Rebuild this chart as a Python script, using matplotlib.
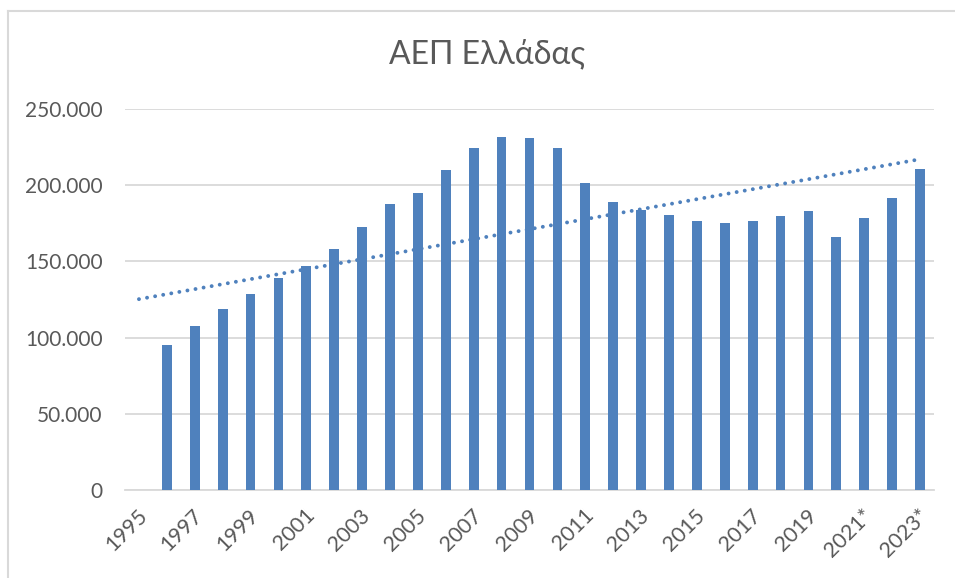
import matplotlib
matplotlib.use("Agg")
import matplotlib.pyplot as plt
import matplotlib.transforms as mtrans
import numpy as np
from matplotlib.lines import Line2D
from matplotlib.ticker import FuncFormatter

years = list(range(1995, 2024))
labels = [str(y) for y in years]
labels[26] = "2021*"
labels[28] = "2023*"
# GDP values (million €); 1995 cell is empty (treated as zero)
gdp = [0, 95400, 107400, 119000, 128900, 138900, 146800, 157900, 172600, 187700,
       194700, 210200, 224700, 231900, 231200, 224200, 201200, 188800, 183500, 180400,
       176800, 175500, 176300, 179600, 182900, 166000, 178700, 191400, 210400]

title = "ΑΕΠ Ελλάδας"
yticks = [0, 50000, 100000, 150000, 200000, 250000]

BLUE = "#4F81BD"
GRID = "#D9D9D9"
TXT = "#595959"
FONT = ["Lato", "Open Sans", "DejaVu Sans"]
plt.rcParams["font.family"] = FONT

W, H = 955, 578
fig = plt.figure(figsize=(W / 100, H / 100), dpi=100)
ax = fig.add_axes([125 / W, 1 - 490 / H, (934 - 125) / W, (490 - 109) / H])

x = np.arange(len(years))
ax.bar(x, gdp, width=0.35, color=BLUE, zorder=3)

# linear trendline (Excel style, x = 1..n)
coef = np.polyfit(x, gdp, 1)
ax.plot(x, np.polyval(coef, x), color=BLUE, lw=2.8,
        linestyle=(0, (0.01, 2.1)), dash_capstyle="round", zorder=4)

ax.set_xlim(-0.5, len(years) - 0.5)
ax.set_ylim(0, 250000)
ax.set_yticks(yticks)
ax.yaxis.set_major_formatter(FuncFormatter(lambda v, p: f"{int(v):,}".replace(",", ".")))
ax.set_xticks(x[::2])
ax.set_xticklabels(labels[::2], rotation=45, ha="right", va="center",
                   rotation_mode="anchor")
ax.tick_params(axis="both", length=0, labelcolor=TXT)
ax.tick_params(axis="y", labelsize=15, pad=16)
ax.tick_params(axis="x", labelsize=15.5, pad=16)
offset = mtrans.ScaledTranslation(5 / 100, 0, fig.dpi_scale_trans)
for lab in ax.get_xticklabels():
    lab.set_transform(lab.get_transform() + offset)
ax.grid(axis="y", color=GRID, lw=1.3, zorder=0)
for s in ["top", "right", "left"]:
    ax.spines[s].set_visible(False)
ax.spines["bottom"].set_color(GRID)
ax.spines["bottom"].set_linewidth(1.3)
ax.spines["bottom"].set_zorder(2)

fig.text(487 / W, 1 - 54 / H, title, ha="center", va="center",
         fontsize=23, color=TXT)

fig.add_artist(Line2D([8 / W, 8 / W], [0, 1 - 10.5 / H], color=GRID, lw=1.5))
fig.add_artist(Line2D([8 / W, 1], [1 - 10.5 / H, 1 - 10.5 / H], color=GRID, lw=1.5))

fig.savefig("out.png", dpi=100, facecolor="white")
